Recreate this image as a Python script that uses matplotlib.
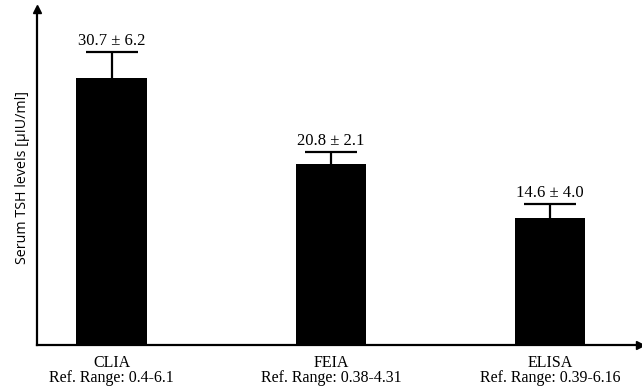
#!/usr/bin/env python3
# -*- coding: utf-8 -*-

import matplotlib
matplotlib.use('Agg')
import matplotlib.pyplot as plt

# Data
assays = ['CLIA', 'FEIA', 'ELISA']
ref_ranges = ['0.4-6.1', '0.38-4.31', '0.39-6.16']
means = [30.7, 20.8, 14.6]
err_drawn = [3.0, 1.4, 1.6]          # length of the drawn (upper) error bars
labels = ['30.7 \u00b1 6.2', '20.8 \u00b1 2.1', '14.6 \u00b1 4.0']

fig = plt.figure(figsize=(6.42, 3.91), dpi=100)
ax = fig.add_axes([37/642, 46/391, 603/642, 336/391])

pos = list(range(len(assays)))
ax.bar(pos, means, width=0.32, color='black', zorder=2)
eb = ax.errorbar(pos, means, yerr=[[0]*3, err_drawn], fmt='none', ecolor='black',
                 elinewidth=1.6, capsize=18.5, capthick=1.6, zorder=3)
# only the upper caps are wanted
for cl in eb[1]:
    if list(cl.get_ydata()) == means:
        cl.set_visible(False)

# mean +- SD labels above the caps
for x, m, e, t in zip(pos, means, err_drawn, labels):
    ax.annotate(t, (x, m + e), xytext=(0, 5), textcoords='offset points',
                ha='center', va='baseline', fontsize=12, family='Liberation Serif')

ax.set_xlim(-0.34, 2.41)
ax.set_ylim(0, 38.6)
ax.set_yticks([])
ax.set_xticks(pos)
ax.set_xticklabels([a + '\nRef. Range: ' + r for a, r in zip(assays, ref_ranges)],
                   family='Liberation Serif', fontsize=11.5, linespacing=0.95)
ax.tick_params(axis='x', length=0, pad=7)

for s in ['top', 'right']:
    ax.spines[s].set_visible(False)
for s in ['left', 'bottom']:
    ax.spines[s].set_linewidth(1.6)

# arrow heads on the axes
ax.plot(1, 0, '>', color='black', ms=6, transform=ax.transAxes, clip_on=False)
ax.plot(0, 1, '^', color='black', ms=6, transform=ax.transAxes, clip_on=False)

ax.set_ylabel('Serum TSH levels [\u00b5IU/ml]', family='Open Sans', fontsize=10.3, labelpad=5)

plt.savefig('out.png', dpi=100)
